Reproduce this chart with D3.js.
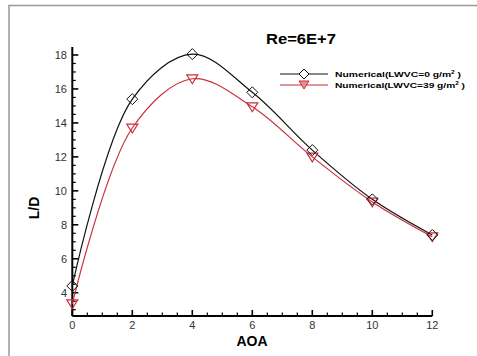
<!DOCTYPE html>
<html><head><meta charset="utf-8">
<script src="https://cdn.jsdelivr.net/npm/d3@7"></script>
<style>body{margin:0;background:#fff}svg{display:block}</style>
</head><body>
<svg id="c" width="477" height="356"></svg>
<script>
const aoa = [0, 2, 4, 6, 8, 10, 12];
const ldDry = [4.4, 15.4, 18.05, 15.8, 12.4, 9.5, 7.4];
const ldWet = [3.35, 13.7, 16.6, 14.95, 12.0, 9.35, 7.3];
const xTicks = [0, 2, 4, 6, 8, 10, 12];
const yTicks = [4, 6, 8, 10, 12, 14, 16, 18];
const seriesNames = ["Numerical(LWVC=0 g/m", "Numerical(LWVC=39 g/m"];

const svg = d3.select("#c");
const x = d3.scaleLinear().domain([0, 12]).range([72.3, 432.3]);
const y = d3.scaleLinear().domain([2.63, 18.47]).range([316, 47]);

// frame
svg.append("path").attr("d", "M9,360 V5.5 H480").attr("fill", "none").attr("stroke", "#999").attr("stroke-width", 1.5);

const font = "Arial, 'Liberation Sans', sans-serif";
// axes
const xMinor = d3.range(0, 12.01, 0.5);
const yMinor = d3.range(3, 18.01, 0.5);
const ax = svg.append("g").attr("stroke", "#000");
ax.append("line").attr("x1", x(0)).attr("x2", x(12)).attr("y1", y(2.63)).attr("y2", y(2.63)).attr("stroke-width", 2);
ax.append("line").attr("x1", x(0)).attr("x2", x(0)).attr("y1", y(2.63)).attr("y2", y(18.47)).attr("stroke-width", 2);
xMinor.forEach(v => {
  const major = Math.abs(v % 2) < 1e-6;
  ax.append("line").attr("x1", x(v)).attr("x2", x(v)).attr("y1", y(2.63)).attr("y2", y(2.63) - (major ? 6 : 3.5)).attr("stroke-width", major ? 1.6 : 1.2);
});
yMinor.forEach(v => {
  const major = Math.abs(v % 2) < 1e-6;
  ax.append("line").attr("y1", y(v)).attr("y2", y(v)).attr("x1", x(0)).attr("x2", x(0) + (major ? 6 : 3.5)).attr("stroke-width", major ? 1.6 : 1.2);
});
svg.append("g").selectAll("text").data(xTicks).join("text")
  .attr("x", d => x(d)).attr("y", 328.5).attr("text-anchor", "middle")
  .attr("font-family", font).attr("font-size", 11).attr("fill", "#333").text(d => d);
svg.append("g").selectAll("text").data(yTicks).join("text")
  .attr("x", 67).attr("y", d => y(d) + 4).attr("text-anchor", "end")
  .attr("font-family", font).attr("font-size", 11).attr("fill", "#333").text(d => d);

svg.append("text").attr("x", 252).attr("y", 346).attr("text-anchor", "middle")
  .attr("font-family", font).attr("font-size", 14).attr("font-weight", "bold").text("AOA");
svg.append("text").attr("transform", "translate(39,208) rotate(-90)").attr("text-anchor", "middle")
  .attr("font-family", font).attr("font-size", 14).attr("font-weight", "bold").text("L/D");
svg.append("text").attr("x", 301).attr("y", 44).attr("text-anchor", "middle")
  .attr("font-family", font).attr("font-size", 14).attr("font-weight", "bold")
  .attr("textLength", 70).attr("lengthAdjust", "spacingAndGlyphs").text("Re=6E+7");

const line = d3.line().x((d, i) => x(aoa[i])).y(d => y(d)).curve(d3.curveCatmullRom.alpha(0.5));
const black = "#111", red = "#c8303c";
svg.append("path").attr("d", line(ldWet)).attr("fill", "none").attr("stroke", red).attr("stroke-width", 1.2);
svg.append("path").attr("d", line(ldDry)).attr("fill", "none").attr("stroke", black).attr("stroke-width", 1.2);

const diamond = (cx, cy, s) => `M${cx},${cy - s}L${cx + s},${cy}L${cx},${cy + s}L${cx - s},${cy}Z`;
const tri = (cx, cy, s) => `M${cx - s},${cy - s * 0.7}L${cx + s},${cy - s * 0.7}L${cx},${cy + s * 0.9}Z`;
svg.append("g").selectAll("path").data(ldWet).join("path")
  .attr("d", (d, i) => tri(x(aoa[i]), y(d), 5.5)).attr("fill", "none").attr("stroke", red).attr("stroke-width", 1.2);
svg.append("g").selectAll("path").data(ldDry).join("path")
  .attr("d", (d, i) => diamond(x(aoa[i]), y(d), 5.5)).attr("fill", "none").attr("stroke", black).attr("stroke-width", 1);

// legend
const lg = svg.append("g");
[[74, black, "d"], [85, red, "t"]].forEach(([ly, c, m], k) => {
  lg.append("line").attr("x1", 280).attr("x2", 328).attr("y1", ly).attr("y2", ly).attr("stroke", c).attr("stroke-width", 1.2);
  lg.append("path").attr("d", m === "d" ? diamond(304, ly, 5) : tri(304, ly - 0.5, 5))
    .attr("fill", m === "d" ? "#fff" : "#e89090").attr("stroke", c).attr("stroke-width", 1);
  const t = lg.append("text").attr("x", 335).attr("y", ly + 3).attr("font-family", font)
    .attr("font-size", 8).attr("font-weight", "bold").attr("textLength", k === 0 ? 126 : 130).attr("lengthAdjust", "spacingAndGlyphs");
  t.append("tspan").text(seriesNames[k]);
  t.append("tspan").attr("font-size", 5).attr("dy", -3).text("2");
  t.append("tspan").attr("dy", 3).text(" )");
});
</script>
</body></html>
